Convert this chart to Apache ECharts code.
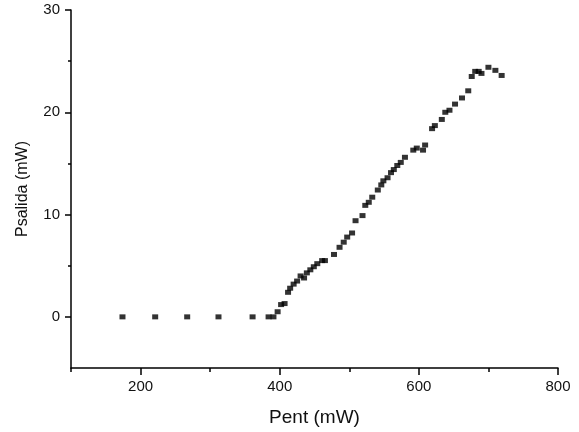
<!DOCTYPE html>
<html>
<head>
<meta charset="utf-8">
<script src="https://cdn.jsdelivr.net/npm/echarts@6/dist/echarts.min.js"></script>
<style>
  html, body { margin: 0; padding: 0; background: #fff; }
  #chart { width: 579px; height: 432px; }
</style>
</head>
<body>
<div id="chart"></div>
<script>
var pent = [174, 221, 267, 312, 361, 384, 391, 397, 402, 407, 412, 415, 420, 425, 430, 435,
    439, 444, 449, 454, 461, 465, 478, 486, 492, 497, 504, 509, 519, 523, 528, 533, 541, 546,
    549, 555, 560, 564, 569, 574, 580, 592, 597, 606, 609, 619, 623, 633, 638, 644, 652, 662,
    671, 676, 681, 686, 690, 700, 710, 719];
var psalida = [0, 0, 0, 0, 0, 0, 0, 0.5, 1.2, 1.3, 2.4, 2.8, 3.2, 3.5, 4.0, 3.8,
    4.3, 4.6, 4.9, 5.2, 5.5, 5.5, 6.1, 6.8, 7.3, 7.8, 8.2, 9.4, 9.9, 10.9, 11.2, 11.7, 12.4, 12.9,
    13.3, 13.6, 14.1, 14.4, 14.8, 15.1, 15.6, 16.3, 16.5, 16.3, 16.8, 18.4, 18.7, 19.3, 20.0, 20.2, 20.8, 21.4,
    22.1, 23.5, 24.0, 24.0, 23.8, 24.4, 24.1, 23.6];
var xMajor = [200, 400, 600, 800];
var xMinor = [100, 300, 500, 700];
var yMajor = [0, 10, 20, 30];
var yMinor = [5, 15, 25];

var points = pent.map(function (x, i) {
    return [x, psalida[i]];
});

var myChart = echarts.init(document.getElementById('chart'));
var textColor = '#111';
var font = 'Liberation Sans';

var option = {
    animation: false,
    grid: { left: 71, right: 21, top: 10, bottom: 64 },
    xAxis: [
        {
            type: 'value', min: 100, max: 800,
            name: 'Pent (mW)', nameLocation: 'middle', nameGap: 40,
            nameTextStyle: { color: textColor, fontSize: 19, fontFamily: font },
            axisLine: { show: true, onZero: false, lineStyle: { color: '#000', width: 1.5 } },
            axisTick: { show: true, inside: false, customValues: xMajor, length: 7, lineStyle: { color: '#000', width: 1.5 } },
            axisLabel: { customValues: xMajor, color: textColor, fontSize: 15, fontFamily: font, margin: 11 },
            splitLine: { show: false }
        },
        {
            type: 'value', min: 100, max: 800, position: 'bottom',
            axisLine: { show: false, onZero: false },
            axisTick: { show: true, inside: false, customValues: xMinor, length: 4, lineStyle: { color: '#000', width: 1.5 } },
            axisLabel: { show: false },
            splitLine: { show: false }
        }
    ],
    yAxis: [
        {
            type: 'value', min: -5, max: 30,
            name: 'Psalida (mW)', nameLocation: 'middle', nameGap: 40,
            nameTextStyle: { color: textColor, fontSize: 16, fontFamily: font },
            axisLine: { show: true, onZero: false, lineStyle: { color: '#000', width: 1.5 } },
            axisTick: { show: true, inside: false, customValues: yMajor, length: 6, lineStyle: { color: '#000', width: 1.5 } },
            axisLabel: { customValues: yMajor, color: textColor, fontSize: 15, fontFamily: font, margin: 11 },
            splitLine: { show: false }
        },
        {
            type: 'value', min: -5, max: 30, position: 'left',
            axisLine: { show: false, onZero: false },
            axisTick: { show: true, inside: false, customValues: yMinor, length: 3, lineStyle: { color: '#000', width: 1.5 } },
            axisLabel: { show: false },
            splitLine: { show: false }
        }
    ],
    series: [
        {
            type: 'scatter',
            data: points,
            symbol: 'rect',
            symbolSize: [6, 5],
            itemStyle: { color: '#000' }
        }
    ]
};

option && myChart.setOption(option);
</script>
</body>
</html>
